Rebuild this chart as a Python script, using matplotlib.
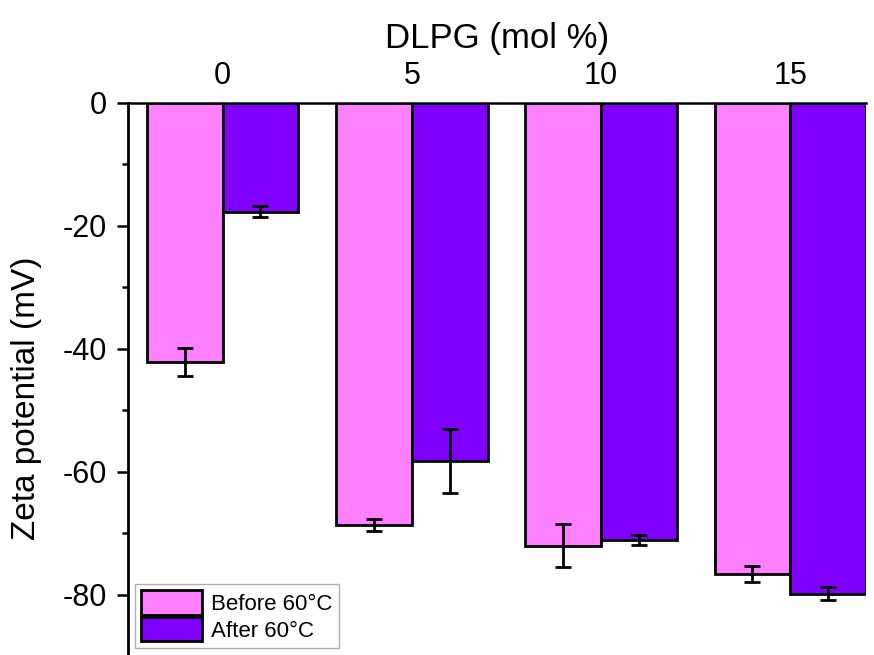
import numpy as np
from matplotlib import pyplot as plt
from matplotlib.ticker import MultipleLocator

plt.rcParams['font.family'] = ['Liberation Sans', 'DejaVu Sans']
plt.rcParams['axes.unicode_minus'] = False

dlpg = ['0', '5', '10', '15']
before = [-42.1, -68.6, -72.0, -76.7]
before_err = [2.3, 1.0, 3.5, 1.3]
after = [-17.7, -58.2, -71.1, -79.8]
after_err = [0.9, 5.2, 0.8, 1.0]

fig = plt.figure(figsize=(8.74, 6.55), dpi=100)
ax = fig.add_axes([128 / 874, 0, (866 - 128) / 874, 1 - 103 / 655])

x = np.arange(len(dlpg))
w = 0.4
ekw = dict(ecolor='black', elinewidth=2, capsize=5.5, capthick=2)
ax.bar(x - w / 2, before, w, yerr=before_err, color='#FF80FF',
       edgecolor='black', linewidth=2, label='Before 60\u00b0C', error_kw=ekw)
ax.bar(x + w / 2, after, w, yerr=after_err, color='#8000FF',
       edgecolor='black', linewidth=2, label='After 60\u00b0C', error_kw=ekw)

ax.set_xlim(-0.5, 3.4)
ax.set_ylim(-89.8, 0)

# categories on top, no bottom/right frame
ax.xaxis.tick_top()
ax.xaxis.set_label_position('top')
ax.set_xticks(x)
ax.set_xticklabels(dlpg)
ax.tick_params(axis='x', length=0, pad=9, labelsize=22)
ax.set_xlabel('DLPG (mol %)', fontsize=25, labelpad=9)

ax.yaxis.set_major_locator(MultipleLocator(20))
ax.yaxis.set_minor_locator(MultipleLocator(10))
ax.tick_params(axis='y', which='major', direction='out', length=8, width=1.8,
               labelsize=22, pad=7)
ax.tick_params(axis='y', which='minor', direction='out', length=4.5, width=1.8)
ax.set_ylabel('Zeta potential (mV)', fontsize=24)
ax.yaxis.set_label_coords(-0.117, 0.466)

ax.spines['right'].set_visible(False)
ax.spines['bottom'].set_visible(False)
ax.spines['left'].set_linewidth(2)
ax.spines['top'].set_linewidth(1.8)

leg = ax.legend(loc='lower left', bbox_to_anchor=(0.0, 0.0), fontsize=16,
                fancybox=False, edgecolor='#b0b0b0', framealpha=1,
                handlelength=2.75, handleheight=1.3, handletextpad=0.4,
                labelspacing=0.1, borderpad=0.3, borderaxespad=0.3)
leg.get_frame().set_linewidth(1.0)

fig.savefig('out.png', dpi=100)
